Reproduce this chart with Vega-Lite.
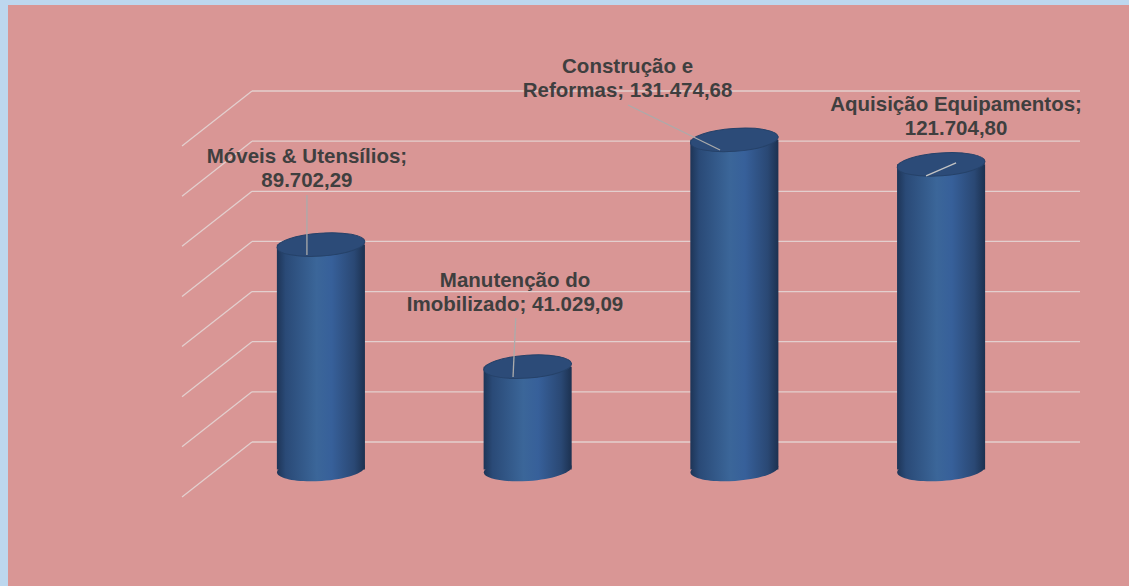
{
  "$schema": "https://vega.github.io/schema/vega-lite/v6.json",
  "width": 1121,
  "height": 581,
  "autosize": {"type": "none"},
  "padding": {"left": 8, "top": 5, "right": 0, "bottom": 0},
  "background": "#BDD7EE",
  "config": {"view": {"fill": "#D99695", "stroke": null}},
  "datasets": {
    "bars": [
      {"cat": "Móveis & Utensílios", "value": 89702.29, "label": ["Móveis & Utensílios;", "89.702,29"]},
      {"cat": "Manutenção do Imobilizado", "value": 41029.09, "label": ["Manutenção do", "Imobilizado; 41.029,09"]},
      {"cat": "Construção e Reformas", "value": 131474.68, "label": ["Construção e", "Reformas; 131.474,68"]},
      {"cat": "Aquisição Equipamentos", "value": 121704.80, "label": ["Aquisição Equipamentos;", "121.704,80"]}
    ],
    "grid": [{"v": 0}, {"v": 20000}, {"v": 40000}, {"v": 60000}, {"v": 80000}, {"v": 100000}, {"v": 120000}, {"v": 140000}]
  },
  "resolve": {"scale": {"y": "shared"}},
  "layer": [
    {
      "data": {"name": "grid"},
      "mark": {"type": "rule", "color": "#E3CFCE", "strokeWidth": 1.3, "yOffset": -27.5},
      "encoding": {
        "x": {"value": 244},
        "x2": {"value": 1072},
        "y": {"field": "v", "type": "quantitative", "axis": null, "scale": {"domain": [0, 140000], "range": [464.5, 113.5], "nice": false}}
      }
    },
    {
      "data": {"name": "grid"},
      "mark": {"type": "rule", "color": "#E3CFCE", "strokeWidth": 1.3, "yOffset": 27.5, "y2Offset": -27.5},
      "encoding": {
        "x": {"value": 174},
        "x2": {"value": 244},
        "y": {"field": "v", "type": "quantitative", "axis": null},
        "y2": {"field": "v"}
      }
    },
    {
      "data": {"name": "bars"},
      "encoding": {
        "x": {"field": "cat", "type": "nominal", "sort": null, "axis": null,
              "scale": {"range": [174, 1072], "paddingInner": 0.574, "paddingOuter": 0.459}}
      },
      "layer": [
        {
          "mark": {"type": "point", "filled": true, "opacity": 1, "size": 7744, "angle": -4,
                   "shape": "M-1,0A1,0.26,0,1,1,1,0A1,0.26,0,1,1,-1,0Z",
                   "color": {"gradient": "linear", "x1": 0, "x2": 1, "y1": 0, "y2": 0,
                             "stops": [{"offset": 0, "color": "#1E3557"}, {"offset": 0.1, "color": "#2A4A77"}, {"offset": 0.45, "color": "#3B6699"}, {"offset": 0.62, "color": "#37609A"}, {"offset": 0.88, "color": "#2A4874"}, {"offset": 1, "color": "#1C3150"}]}},
          "encoding": {"y": {"datum": 0, "type": "quantitative"}}
        },
        {
          "mark": {"type": "bar",
                   "color": {"gradient": "linear", "x1": 0, "x2": 1, "y1": 0, "y2": 0,
                             "stops": [{"offset": 0, "color": "#1E3557"}, {"offset": 0.1, "color": "#2A4A77"}, {"offset": 0.45, "color": "#3B6699"}, {"offset": 0.62, "color": "#37609A"}, {"offset": 0.88, "color": "#2A4874"}, {"offset": 1, "color": "#1C3150"}]}},
          "encoding": {"y": {"field": "value", "type": "quantitative"}}
        },
        {
          "mark": {"type": "point", "filled": true, "opacity": 1, "size": 7744, "angle": -4,
                   "shape": "M-1,0A1,0.26,0,1,1,1,0A1,0.26,0,1,1,-1,0Z",
                   "color": "#2C4B78", "stroke": "#264269", "strokeWidth": 1},
          "encoding": {"y": {"field": "value", "type": "quantitative"}}
        },
        {
          "transform": [{"filter": "datum.cat === 'Móveis & Utensílios'"}],
          "layer": [
            {"mark": {"type": "rule", "color": "#ABABAB", "strokeWidth": 1.3, "xOffset": -14, "x2Offset": -14, "yOffset": -49.6, "y2Offset": 10.4},
             "encoding": {"x2": {"field": "cat"}, "y": {"field": "value", "type": "quantitative"}, "y2": {"field": "value"}}},
            {"mark": {"type": "text", "font": "Liberation Sans", "fontWeight": "bold", "fontSize": 20.5, "color": "#3F3F3F", "align": "center", "baseline": "alphabetic", "lineHeight": 24, "dx": -14, "dy": -81.6},
             "encoding": {"y": {"field": "value", "type": "quantitative"}, "text": {"field": "label"}}}
          ]
        },
        {
          "transform": [{"filter": "datum.cat === 'Manutenção do Imobilizado'"}],
          "layer": [
            {"mark": {"type": "rule", "color": "#ABABAB", "strokeWidth": 1.3, "xOffset": -11.9, "x2Offset": -14.6, "yOffset": -48.6, "y2Offset": 10.4},
             "encoding": {"x2": {"field": "cat"}, "y": {"field": "value", "type": "quantitative"}, "y2": {"field": "value"}}},
            {"mark": {"type": "text", "font": "Liberation Sans", "fontWeight": "bold", "fontSize": 20.5, "color": "#3F3F3F", "align": "center", "baseline": "alphabetic", "lineHeight": 24, "dx": -12.6, "dy": -79.6},
             "encoding": {"y": {"field": "value", "type": "quantitative"}, "text": {"field": "label"}}}
          ]
        },
        {
          "transform": [{"filter": "datum.cat === 'Construção e Reformas'"}],
          "layer": [
            {"mark": {"type": "rule", "color": "#ABABAB", "strokeWidth": 1.3, "xOffset": -106.3, "x2Offset": -14.3, "yOffset": -34.9, "y2Offset": 10.1},
             "encoding": {"x2": {"field": "cat"}, "y": {"field": "value", "type": "quantitative"}, "y2": {"field": "value"}}},
            {"mark": {"type": "text", "font": "Liberation Sans", "fontWeight": "bold", "fontSize": 20.5, "color": "#3F3F3F", "align": "center", "baseline": "alphabetic", "lineHeight": 24, "dx": -106.8, "dy": -66.9},
             "encoding": {"y": {"field": "value", "type": "quantitative"}, "text": {"field": "label"}}}
          ]
        },
        {
          "transform": [{"filter": "datum.cat === 'Aquisição Equipamentos'"}],
          "layer": [
            {"mark": {"type": "rule", "color": "#C4C4C4", "strokeWidth": 1.3, "xOffset": 15, "x2Offset": -15, "yOffset": -1.4, "y2Offset": 11.6},
             "encoding": {"x2": {"field": "cat"}, "y": {"field": "value", "type": "quantitative"}, "y2": {"field": "value"}}},
            {"mark": {"type": "text", "font": "Liberation Sans", "fontWeight": "bold", "fontSize": 20.5, "color": "#3F3F3F", "align": "center", "baseline": "alphabetic", "lineHeight": 24, "dx": 15, "dy": -53.4},
             "encoding": {"y": {"field": "value", "type": "quantitative"}, "text": {"field": "label"}}}
          ]
        }
      ]
    }
  ]
}
